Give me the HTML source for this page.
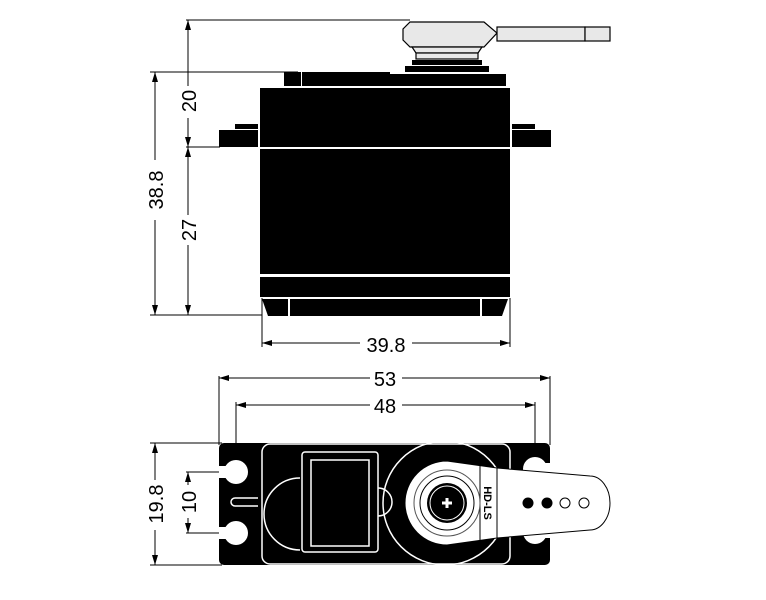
<!DOCTYPE html>
<html><head><meta charset="utf-8"><style>
html,body{margin:0;padding:0;background:#fff}
svg{display:block}
text{font-family:"Liberation Sans",sans-serif;fill:#000}
</style></head><body>
<svg width="766" height="600" viewBox="0 0 766 600" xmlns="http://www.w3.org/2000/svg">
<defs>
<marker id="a" markerWidth="10" markerHeight="6" refX="10" refY="3" orient="auto-start-reverse" markerUnits="userSpaceOnUse"><path d="M0,0 L10,3 L0,6 Z" fill="#000"/></marker>
</defs>
<g stroke="#000" stroke-width="1" fill="none">
<line x1="186" y1="20" x2="410" y2="20"/>
<line x1="150" y1="72" x2="298" y2="72"/>
<line x1="186" y1="147" x2="220" y2="147"/>
<line x1="150" y1="315" x2="262" y2="315"/>
<line x1="262" y1="298" x2="262" y2="347"/>
<line x1="510" y1="298" x2="510" y2="347"/>
<line x1="188" y1="20" x2="188" y2="86" marker-start="url(#a)"/>
<line x1="188" y1="118" x2="188" y2="147" marker-end="url(#a)"/>
<line x1="188" y1="147" x2="188" y2="215" marker-start="url(#a)"/>
<line x1="188" y1="245" x2="188" y2="315" marker-end="url(#a)"/>
<line x1="155" y1="72" x2="155" y2="160" marker-start="url(#a)"/>
<line x1="155" y1="220" x2="155" y2="315" marker-end="url(#a)"/>
<line x1="262" y1="343" x2="360" y2="343" marker-start="url(#a)"/>
<line x1="412" y1="343" x2="510" y2="343" marker-end="url(#a)"/>
</g>
<text transform="translate(196,101) rotate(-90)" font-size="20" text-anchor="middle">20</text>
<text transform="translate(196,230) rotate(-90)" font-size="20" text-anchor="middle">27</text>
<text transform="translate(163,190) rotate(-90)" font-size="20" text-anchor="middle">38.8</text>
<text x="386" y="352" font-size="20" text-anchor="middle">39.8</text>

<g fill="#000">
<rect x="284" y="72" width="17" height="14"/>
<rect x="302" y="72" width="88" height="14"/>
<rect x="302" y="74" width="204" height="12"/>
<rect x="260" y="88" width="250" height="59"/>
<rect x="260" y="149" width="250" height="125"/>
<rect x="260" y="277" width="250" height="20"/>
<rect x="290" y="299" width="190" height="17"/>
<rect x="219" y="130" width="39" height="17"/>
<rect x="235" y="124" width="23" height="5"/>
<rect x="512" y="130" width="39" height="17"/>
<rect x="512" y="124" width="23" height="5"/>
<rect x="405" y="66" width="84" height="6"/>
<rect x="412" y="60" width="70" height="5"/>
</g>
<path d="M262,299 L288,299 L288,316 L268,316 Z" fill="#000"/>
<path d="M482,299 L508,299 L502,316 L482,316 Z" fill="#000"/>
<g stroke="#000" stroke-width="1.2" fill="#e8e8e8">
<path d="M410,22 L484,22 L497,33 L484,47 L410,47 L403,40 L403,29 Z"/>
<rect x="497" y="27" width="88" height="14"/>
<rect x="585" y="27" width="25" height="14"/>
<path d="M412,47 L482,47 L478,53 L416,53 Z"/>
<rect x="416" y="53" width="62" height="6"/>
</g>

<g stroke="#000" stroke-width="1" fill="none">
<line x1="219" y1="376" x2="219" y2="445"/>
<line x1="550" y1="376" x2="550" y2="445"/>
<line x1="236" y1="402" x2="236" y2="560"/>
<line x1="535" y1="402" x2="535" y2="560"/>
<line x1="219" y1="378" x2="370" y2="378" marker-start="url(#a)"/>
<line x1="402" y1="378" x2="550" y2="378" marker-end="url(#a)"/>
<line x1="236" y1="405" x2="370" y2="405" marker-start="url(#a)"/>
<line x1="402" y1="405" x2="535" y2="405" marker-end="url(#a)"/>
<line x1="150" y1="443" x2="222" y2="443"/>
<line x1="150" y1="565" x2="222" y2="565"/>
<line x1="186" y1="472" x2="240" y2="472"/>
<line x1="186" y1="533" x2="240" y2="533"/>
<line x1="155" y1="443" x2="155" y2="480" marker-start="url(#a)"/>
<line x1="155" y1="530" x2="155" y2="565" marker-end="url(#a)"/>
<line x1="188" y1="472" x2="188" y2="485" marker-start="url(#a)"/>
<line x1="188" y1="518" x2="188" y2="533" marker-end="url(#a)"/>
</g>
<text x="385" y="386" font-size="20" text-anchor="middle">53</text>
<text x="385" y="413" font-size="20" text-anchor="middle">48</text>
<text transform="translate(163,504) rotate(-90)" font-size="20" text-anchor="middle">19.8</text>
<text transform="translate(196,502) rotate(-90)" font-size="20" text-anchor="middle">10</text>

<rect x="219" y="443" width="331" height="122" rx="5" fill="#000"/>
<g stroke="#fff" stroke-width="1.5" fill="none">
<rect x="262" y="444" width="248" height="120" rx="8"/>
<rect x="302" y="452" width="76" height="100" rx="3"/>
<rect x="311" y="460" width="58" height="86" fill="#000"/>
<path d="M300,478 A30,30 0 0 0 300,550"/>
<path d="M378,488 A14,14 0 0 1 378,516"/>
<path d="M235,498 L258,498 M235,506 L258,506 M235,498 A4,4 0 0 0 235,506"/>
<circle cx="445" cy="503" r="62"/>
</g>
<g fill="#fff">
<circle cx="236" cy="472" r="12"/><rect x="219" y="466" width="17" height="12"/>
<circle cx="236" cy="533" r="12"/><rect x="219" y="527" width="17" height="12"/>
<circle cx="535" cy="469" r="12"/><rect x="535" y="463" width="15" height="12"/>
<circle cx="535" cy="532" r="12"/><rect x="535" y="526" width="15" height="12"/>
</g>
<path d="M447,461 L497,468 L590,476 A20,27 0 0 1 590,530 L497,538 L447,545 A42,42 0 0 1 447,461 Z" fill="#fff" stroke="#000" stroke-width="1"/>
<line x1="497" y1="468" x2="497" y2="538" stroke="#000" stroke-width="1"/>
<line x1="480" y1="466" x2="480" y2="540" stroke="#000" stroke-width="1"/>
<circle cx="447" cy="503" r="33" fill="none" stroke="#555" stroke-width="1"/>
<circle cx="447" cy="503" r="27" fill="none" stroke="#000" stroke-width="1"/>
<circle cx="447" cy="503" r="20" fill="#000"/>
<circle cx="447" cy="503" r="17" fill="none" stroke="#fff" stroke-width="1"/>
<path d="M442,503 H452 M447,498 V508" stroke="#fff" stroke-width="3"/>
<text transform="translate(484,503) rotate(90)" font-size="11" font-weight="bold" text-anchor="middle">HD-LS</text>
<circle cx="528" cy="503" r="5.5" fill="#000"/>
<circle cx="547" cy="503" r="5.5" fill="#000"/>
<circle cx="565" cy="503" r="5" fill="#fff" stroke="#000"/>
<circle cx="584" cy="503" r="5" fill="#fff" stroke="#000"/>
</svg>
</body></html>
